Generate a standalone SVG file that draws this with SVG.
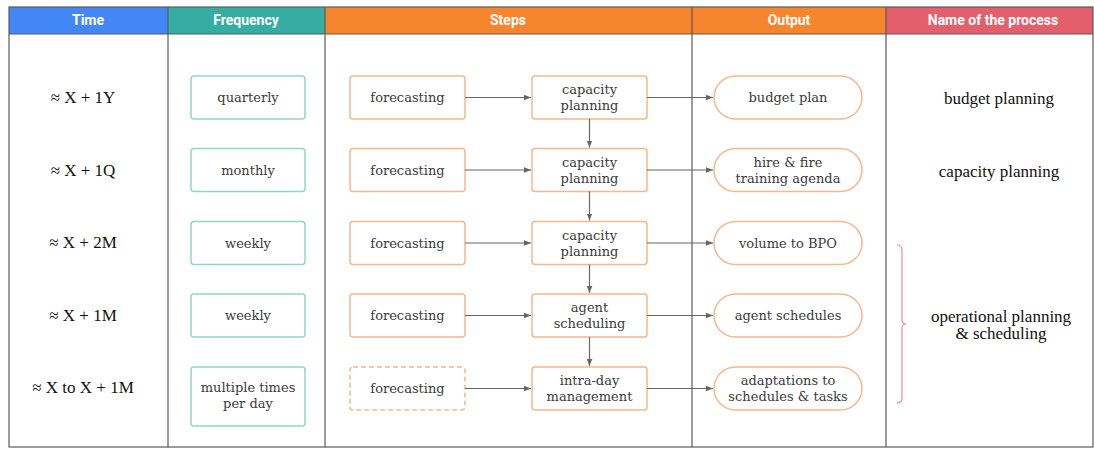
<svg xmlns="http://www.w3.org/2000/svg" width="1094" height="450" viewBox="0 0 1094 450">
  <defs>
    <marker id="arr" viewBox="0 0 10 10" refX="10" refY="5" markerWidth="7" markerHeight="7" markerUnits="userSpaceOnUse" orient="auto">
      <path d="M0,1 L10,5 L0,9 z" fill="#666"/>
    </marker>
    <style>
      .hdr { font-family: Roboto, "Liberation Sans", sans-serif; font-weight: bold; font-size: 14px; fill: #ffffff; text-anchor: middle; }
      .col { stroke: #5a5a5a; stroke-width: 1.2; fill: none; }
      .big { font-family: "Liberation Serif", serif; font-size: 17px; fill: #111; text-anchor: middle; }
      .lbl { font-family: "DejaVu Serif", serif; font-size: 13px; fill: #3a3a3a; text-anchor: middle; }
      .freq { fill: #fff; stroke: #8fd8c6; stroke-width: 1.5; }
      .step { fill: #fff; stroke: #f8b68c; stroke-width: 1.5; }
      .dash { fill: #fff; stroke: #f8b68c; stroke-width: 1.5; stroke-dasharray: 5 3; }
      .out { fill: #fff; stroke: #f8b68c; stroke-width: 1.5; }
      .conn { stroke: #666; stroke-width: 1.2; fill: none; marker-end: url(#arr); }
    </style>
  </defs>

  <rect width="1094" height="450" fill="#fff"/>

  <!-- header band -->
  <g id="header">
    <rect x="9" y="7" width="159" height="27" fill="#4287f5"/>
    <rect x="168" y="7" width="157" height="27" fill="#35ada3"/>
    <rect x="325" y="7" width="367" height="27" fill="#f7852d"/>
    <rect x="692" y="7" width="194" height="27" fill="#f7852d"/>
    <rect x="886" y="7" width="207" height="27" fill="#e45f6c"/>
    <text class="hdr" x="88" y="25">Time</text>
    <text class="hdr" x="246" y="25">Frequency</text>
    <text class="hdr" x="508" y="25">Steps</text>
    <text class="hdr" x="789" y="25">Output</text>
    <text class="hdr" x="993" y="25">Name of the process</text>
  </g>

  <!-- table frame and column rules -->
  <g id="grid">
    <rect class="col" x="9" y="7" width="1084" height="440"/>
    <line class="col" x1="9" y1="34" x2="1093" y2="34"/>
    <line class="col" x1="168" y1="7" x2="168" y2="447"/>
    <line class="col" x1="325" y1="7" x2="325" y2="447"/>
    <line class="col" x1="692" y1="7" x2="692" y2="447"/>
    <line class="col" x1="886" y1="7" x2="886" y2="447"/>
  </g>

  <!-- time horizons -->
  <g id="time">
    <text class="big" x="83" y="103">≈ X + 1Y</text>
    <text class="big" x="83" y="176">≈ X + 1Q</text>
    <text class="big" x="83" y="248">≈ X + 2M</text>
    <text class="big" x="83" y="321">≈ X + 1M</text>
    <text class="big" x="83" y="393">≈ X to X + 1M</text>
  </g>

  <!-- frequency -->
  <g id="freq-quarterly"><rect class="freq" x="191" y="76" width="114" height="43" rx="3"/><text class="lbl" x="248" y="102">quarterly</text></g>
  <g id="freq-monthly"><rect class="freq" x="191" y="148.5" width="114" height="43" rx="3"/><text class="lbl" x="248" y="174.5">monthly</text></g>
  <g id="freq-weekly-1"><rect class="freq" x="191" y="221.5" width="114" height="43" rx="3"/><text class="lbl" x="248" y="247.5">weekly</text></g>
  <g id="freq-weekly-2"><rect class="freq" x="191" y="294" width="114" height="43" rx="3"/><text class="lbl" x="248" y="320">weekly</text></g>
  <g id="freq-multiple"><rect class="freq" x="191" y="367" width="114" height="59" rx="3"/><text class="lbl" x="248" y="392">multiple times</text><text class="lbl" x="248" y="408">per day</text></g>

  <!-- forecasting steps -->
  <g id="fc-1"><rect class="step" x="350" y="76" width="115" height="43" rx="3"/><text class="lbl" x="407.5" y="102">forecasting</text></g>
  <g id="fc-2"><rect class="step" x="350" y="148.5" width="115" height="43" rx="3"/><text class="lbl" x="407.5" y="174.5">forecasting</text></g>
  <g id="fc-3"><rect class="step" x="350" y="221.5" width="115" height="43" rx="3"/><text class="lbl" x="407.5" y="247.5">forecasting</text></g>
  <g id="fc-4"><rect class="step" x="350" y="294" width="115" height="43" rx="3"/><text class="lbl" x="407.5" y="320">forecasting</text></g>
  <g id="fc-5"><rect class="dash" x="350" y="367" width="115" height="43" rx="3"/><text class="lbl" x="407.5" y="393">forecasting</text></g>

  <!-- planning steps -->
  <g id="cp-1"><rect class="step" x="532" y="76" width="115" height="43" rx="3"/><text class="lbl" x="589.5" y="94">capacity</text><text class="lbl" x="589.5" y="110">planning</text></g>
  <g id="cp-2"><rect class="step" x="532" y="148.5" width="115" height="43" rx="3"/><text class="lbl" x="589.5" y="166.5">capacity</text><text class="lbl" x="589.5" y="182.5">planning</text></g>
  <g id="cp-3"><rect class="step" x="532" y="221.5" width="115" height="43" rx="3"/><text class="lbl" x="589.5" y="239.5">capacity</text><text class="lbl" x="589.5" y="255.5">planning</text></g>
  <g id="sched"><rect class="step" x="532" y="294" width="115" height="43" rx="3"/><text class="lbl" x="589.5" y="312">agent</text><text class="lbl" x="589.5" y="328">scheduling</text></g>
  <g id="intraday"><rect class="step" x="532" y="367" width="115" height="43" rx="3"/><text class="lbl" x="589.5" y="385">intra-day</text><text class="lbl" x="589.5" y="401">management</text></g>

  <!-- outputs -->
  <g id="out-budget"><rect class="out" x="714" y="76" width="148" height="43" rx="21.5"/><text class="lbl" x="788" y="102">budget plan</text></g>
  <g id="out-hire"><rect class="out" x="714" y="148.5" width="148" height="43" rx="21.5"/><text class="lbl" x="788" y="166.5">hire &amp; fire</text><text class="lbl" x="788" y="182.5">training agenda</text></g>
  <g id="out-bpo"><rect class="out" x="714" y="221.5" width="148" height="43" rx="21.5"/><text class="lbl" x="788" y="247.5">volume to BPO</text></g>
  <g id="out-schedules"><rect class="out" x="714" y="294" width="148" height="43" rx="21.5"/><text class="lbl" x="788" y="320">agent schedules</text></g>
  <g id="out-adapt"><rect class="out" x="714" y="367" width="148" height="43" rx="21.5"/><text class="lbl" x="788" y="385">adaptations to</text><text class="lbl" x="788" y="401">schedules &amp; tasks</text></g>

  <!-- process names -->
  <g id="names">
    <text class="big" x="999" y="104">budget planning</text>
    <text class="big" x="999" y="177">capacity planning</text>
    <text class="big" x="1001" y="322">operational planning</text>
    <text class="big" x="1001" y="339">&amp; scheduling</text>
  </g>
  <g id="brace">
    <path d="M897,245 Q902,245 902,250 L902,320 Q902,324 906,324 Q902,324 902,328 L902,398 Q902,403 897,403" fill="none" stroke="#ee8aa0" stroke-width="1.2"/>
  </g>

  <!-- connectors -->
  <g id="connectors">
    <line class="conn" x1="465" y1="97.5" x2="531" y2="97.5"/>
    <line class="conn" x1="465" y1="170" x2="531" y2="170"/>
    <line class="conn" x1="465" y1="243" x2="531" y2="243"/>
    <line class="conn" x1="465" y1="315.5" x2="531" y2="315.5"/>
    <line class="conn" x1="465" y1="388.5" x2="531" y2="388.5"/>
    <line class="conn" x1="647" y1="97.5" x2="713" y2="97.5"/>
    <line class="conn" x1="647" y1="170" x2="713" y2="170"/>
    <line class="conn" x1="647" y1="243" x2="713" y2="243"/>
    <line class="conn" x1="647" y1="315.5" x2="713" y2="315.5"/>
    <line class="conn" x1="647" y1="388.5" x2="713" y2="388.5"/>
    <line class="conn" x1="589.5" y1="119" x2="589.5" y2="147.5"/>
    <line class="conn" x1="589.5" y1="191.5" x2="589.5" y2="220.5"/>
    <line class="conn" x1="589.5" y1="264.5" x2="589.5" y2="293"/>
    <line class="conn" x1="589.5" y1="337" x2="589.5" y2="366"/>
  </g>
</svg>
